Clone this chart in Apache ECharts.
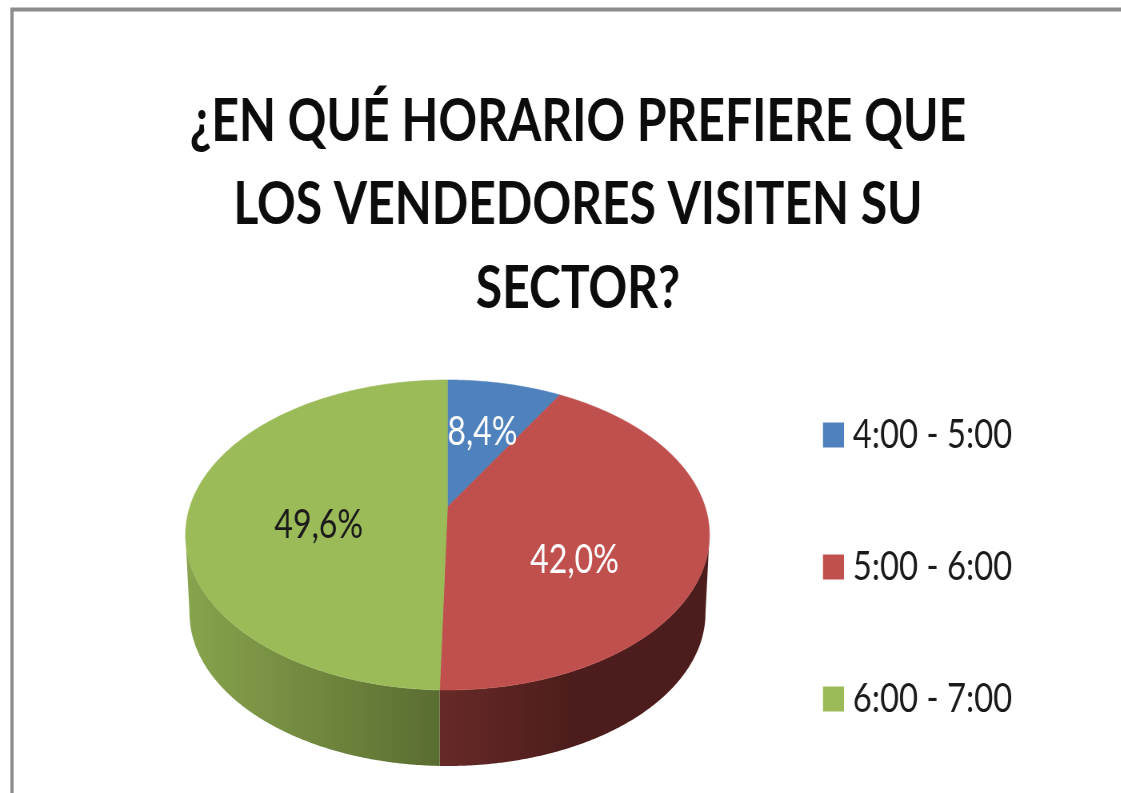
<!DOCTYPE html>
<html><head><meta charset="utf-8">
<style>html,body{margin:0;padding:0;background:#fff;overflow:hidden;width:1121px;height:793px}
#c{width:1401.25px;height:793px;transform:scaleX(0.8);transform-origin:0 0}</style>
<script src="https://cdn.jsdelivr.net/npm/echarts@6/dist/echarts.min.js"></script>
</head><body><div id="c"></div>
<script>
const chartTitle = '¿EN QUÉ HORARIO PREFIERE QUE\nLOS VENDEDORES VISITEN SU\nSECTOR?';
const categories = ['4:00 - 5:00', '5:00 - 6:00', '6:00 - 7:00'];
const values = [8.4, 42.0, 49.6];
const valueLabels = ['8,4%', '42,0%', '49,6%'];

// The source picture is squeezed horizontally: the page narrows the chart by SX
const SX = 0.8;
const sliceColors = ['#4f81bd', '#c0504d', '#9bbb59'];
const labelColors = ['#ffffff', '#ffffff', '#1a1a1a'];
const labelShift = [[4, -8], [0, 32], [0, 19]];
const wallStops = [
  null,
  [[0, '#672a28'], [0.5, '#4c1d1c'], [1, '#4c1d1c']],
  [[0, '#88a44d'], [1, '#5a6d31']]
];
const wallRange = [null, [440 / SX, 710 / SX], [186 / SX, 440 / SX]];
const FONT = 'Lato,"Open Sans",sans-serif';

// Top face ellipse, with the apex displaced by perspective factor k
const faceE = {cx: 447.5 / SX, cy: 535, rx: 262 / SX, ry: 155};
const baseE = {cx: 447.5 / SX, cy: 613, rx: 258 / SX, ry: 153};
const k = 0.18;
const total = values.reduce((a, b) => a + b, 0);
const rad = d => d * Math.PI / 180;

function project(thetaDeg, r) {
  const u = r * Math.sin(rad(thetaDeg)), v = r * Math.cos(rad(thetaDeg));
  const w = 1 + k * v;
  return [u * Math.sqrt(1 - k * k) / w, (v + k) / w];
}
const toPx = (p, e) => [e.cx + p[0] * e.rx, e.cy - p[1] * e.ry];
const onEllipse = (phi, e) => [e.cx + e.rx * Math.sin(rad(phi)), e.cy - e.ry * Math.cos(rad(phi))];
function phiOf(theta) {
  const p = project(theta, 1);
  let a = Math.atan2(p[0], p[1]) * 180 / Math.PI;
  if (a < 0) a += 360;
  return a;
}

function makeRender(i) {
  return function (params, api) {
    const val = api.value(0);
    const before = values.slice(0, i).reduce((a, b) => a + b, 0);
    const t0 = before / total * 360, t1 = (before + val) / total * 360;
    const children = [];
    const n = Math.ceil(t1 - t0) * 2;

    // side wall (front half only)
    const p0 = i === 0 ? 0 : phiOf(t0);
    const p1 = t1 >= 360 ? 360 : phiOf(t1);
    const a = Math.max(p0, 90), b = Math.min(p1, 270);
    if (b > a && wallStops[i]) {
      const pts = [];
      for (let s = 0; s <= 240; s++) pts.push(onEllipse(a + (b - a) * s / 240, faceE));
      for (let s = 240; s >= 0; s--) pts.push(onEllipse(a + (b - a) * s / 240, baseE));
      children.push({
        type: 'polygon', shape: {points: pts},
        style: {fill: {type: 'linear', x: wallRange[i][0], y: 0, x2: wallRange[i][1], y2: 0, global: true,
          colorStops: wallStops[i].map(s => ({offset: s[0], color: s[1]}))}}
      });
    }

    // top face
    const face = [toPx(project(0, 0), faceE)];
    for (let s = 0; s <= n; s++) face.push(toPx(project(t0 + (t1 - t0) * s / n, 1), faceE));
    children.push({
      type: 'polygon', shape: {points: face},
      style: {fill: sliceColors[i], stroke: sliceColors[i], lineWidth: 0.6}
    });

    // value label
    const mid = (t0 + t1) / 2;
    const lp = toPx(project(mid, 0.5), faceE);
    children.push({
      type: 'text', z2: 10,
      style: {
        x: lp[0] + labelShift[i][0] / SX, y: lp[1] + labelShift[i][1],
        text: valueLabels[i], fill: labelColors[i],
        fontSize: 40, fontFamily: FONT, align: 'center', verticalAlign: 'middle'
      }
    });
    return {type: 'group', children};
  };
}

const chart = echarts.init(document.getElementById('c'), null, {renderer: 'canvas'});
chart.setOption({
  animation: false,
  backgroundColor: '#ffffff',
  color: sliceColors,
  title: {
    text: chartTitle, left: 574 / SX, top: 74.5, textAlign: 'center',
    textStyle: {fontFamily: FONT, fontWeight: 'bold', fontSize: 60, lineHeight: 83.5, color: '#0c0c0c'}
  },
  legend: {
    orient: 'vertical', left: 823 / SX, top: 413, padding: 0, icon: 'rect',
    itemWidth: 21 / SX, itemHeight: 25, itemGap: 88,
    data: categories,
    selectedMode: false,
    textStyle: {fontFamily: FONT, fontSize: 41, lineHeight: 44, color: '#1a1a1a', padding: [0, 0, 0, 6]}
  },
  graphic: [{
    type: 'rect', silent: true, z: -1,
    shape: {x: 12 / SX, y: 9.5, width: 1600, height: 1000},
    style: {fill: 'none', stroke: '#8c8c8c', lineWidth: 4}
  }],
  series: categories.map((name, i) => ({
    type: 'custom', name, coordinateSystem: 'none',
    itemStyle: {color: sliceColors[i]},
    data: [values[i]],
    encode: {value: 0},
    renderItem: makeRender(i)
  }))
});
</script></body></html>
